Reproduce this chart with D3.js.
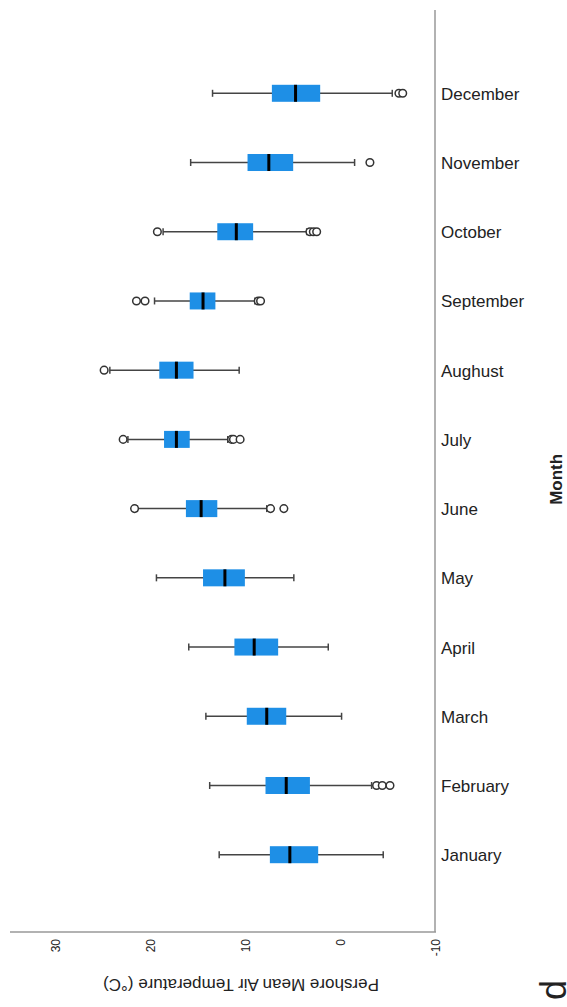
<!DOCTYPE html>
<html>
<head>
    <meta charset="utf-8">
    <title>Pershore boxplot</title>
    <style>
        body { margin: 0; background: #fff; }
        text { font-family: "Liberation Sans", Arial, sans-serif; fill: #222; }
        .axis-line { stroke: #999; stroke-width: 1.5; }
        .whisker { stroke: #444; stroke-width: 1.5; }
        .box { fill: #1e8fe6; }
        .median { stroke: #000; stroke-width: 3; }
        .outlier { fill: #fff; stroke: #333; stroke-width: 1.5; }
    </style>
</head>
<body>
    <script src="https://d3js.org/d3.v7.min.js"></script>
    <script>
        const width = 567;
        const height = 1007;

        // data (°C)
        const months = ["January", "February", "March", "April", "May", "June",
                        "July", "Aughust", "September", "October", "November", "December"];
        const whiskerLow = [-4.45, -3.23, -0.07, 1.33, 4.95, 7.8, 11.9, 10.7, 9.05, 3.6, -1.44, -5.4];
        const q1 = [2.39, 3.26, 5.75, 6.6, 10.1, 13.0, 15.9, 15.5, 13.2, 9.23, 5.02, 2.18];
        const median = [5.37, 5.75, 7.8, 9.12, 12.2, 14.7, 17.3, 17.3, 14.5, 11.0, 7.58, 4.77];
        const q3 = [7.47, 7.93, 9.9, 11.2, 14.5, 16.3, 18.6, 19.1, 15.9, 13.0, 9.82, 7.26];
        const whiskerHigh = [12.8, 13.8, 14.2, 16.0, 19.4, 21.4, 22.4, 24.3, 19.6, 18.7, 15.8, 13.5];
        const outliers = [
            [],
            [-3.75, -4.35, -5.16],
            [],
            [],
            [],
            [21.7, 7.4, 6.0],
            [22.9, 11.5, 11.3, 10.6],
            [24.9],
            [21.5, 20.6, 8.7, 8.45],
            [19.3, 3.26, 2.9, 2.55],
            [-3.05],
            [-6.1, -6.5]
        ];
        const tickValues = [-10, 0, 10, 20, 30];

        const plotLeft = 10, plotRight = 436, plotTop = 10, plotBottom = 932;

        const svg = d3.select("body").append("svg")
            .attr("width", width)
            .attr("height", height);

        // value axis runs right-to-left (the chart is turned on its side)
        const x = d3.scaleLinear()
            .domain([-10, 34.8])
            .range([plotRight, plotLeft]);

        const y = d3.scalePoint()
            .domain(months)
            .range([plotBottom + 3, plotTop + 3])
            .padding(1.16);

        const boxH = 17;
        const capH = 7;

        const rows = months.map((m, i) => ({
            month: m, lo: whiskerLow[i], q1: q1[i], med: median[i],
            q3: q3[i], hi: whiskerHigh[i], out: outliers[i]
        }));

        const g = svg.append("g").selectAll("g")
            .data(rows)
            .enter().append("g")
            .attr("transform", d => `translate(0,${y(d.month)})`);

        // whisker line + caps
        g.append("line")
            .attr("class", "whisker")
            .attr("x1", d => x(d.hi)).attr("x2", d => x(d.lo))
            .attr("y1", 0).attr("y2", 0);
        g.append("line")
            .attr("class", "whisker")
            .attr("x1", d => x(d.hi)).attr("x2", d => x(d.hi))
            .attr("y1", -capH / 2).attr("y2", capH / 2);
        g.append("line")
            .attr("class", "whisker")
            .attr("x1", d => x(d.lo)).attr("x2", d => x(d.lo))
            .attr("y1", -capH / 2).attr("y2", capH / 2);

        // box
        g.append("rect")
            .attr("class", "box")
            .attr("x", d => x(d.q3))
            .attr("width", d => x(d.q1) - x(d.q3))
            .attr("y", -boxH / 2)
            .attr("height", boxH);

        g.append("line")
            .attr("class", "median")
            .attr("x1", d => x(d.med)).attr("x2", d => x(d.med))
            .attr("y1", -boxH / 2).attr("y2", boxH / 2);

        // outliers
        g.selectAll("circle")
            .data(d => d.out)
            .enter().append("circle")
            .attr("class", "outlier")
            .attr("cx", v => x(v))
            .attr("cy", 0)
            .attr("r", 3.8);

        // axis lines
        svg.append("line")
            .attr("class", "axis-line")
            .attr("x1", plotLeft).attr("x2", plotRight)
            .attr("y1", plotBottom).attr("y2", plotBottom);
        svg.append("line")
            .attr("class", "axis-line")
            .attr("x1", plotRight - 1).attr("x2", plotRight - 1)
            .attr("y1", plotTop).attr("y2", plotBottom);

        // value tick labels (rotated)
        svg.append("g").selectAll("text")
            .data(tickValues)
            .enter().append("text")
            .attr("transform", d => `translate(${x(d)},${plotBottom + 7}) rotate(-90)`)
            .attr("text-anchor", "end")
            .attr("dy", "0.35em")
            .style("font-size", "12px")
            .text(d => d);

        // month labels
        svg.append("g").selectAll("text")
            .data(months)
            .enter().append("text")
            .attr("x", plotRight + 5)
            .attr("y", d => y(d))
            .attr("dy", "0.38em")
            .style("font-size", "17px")
            .text(d => d);

        // axis titles
        svg.append("text")
            .attr("transform", `translate(${(plotLeft + plotRight) / 2 + 18},${plotBottom + 53}) rotate(180)`)
            .attr("text-anchor", "middle")
            .attr("dy", "0.35em")
            .style("font-size", "17px")
            .text("Pershore Mean Air Temperature (°C)");

        svg.append("text")
            .attr("transform", `translate(556,${y("July") + 40}) rotate(-90)`)
            .attr("text-anchor", "middle")
            .attr("dy", "0.35em")
            .style("font-size", "17px")
            .style("font-weight", "bold")
            .text("Month");

        // panel letter, partly off the right edge as in the source
        svg.append("text")
            .attr("transform", "translate(566,990) rotate(-90)")
            .attr("text-anchor", "middle")
            .style("font-size", "36px")
            .text("d");
    </script>
</body>
</html>
